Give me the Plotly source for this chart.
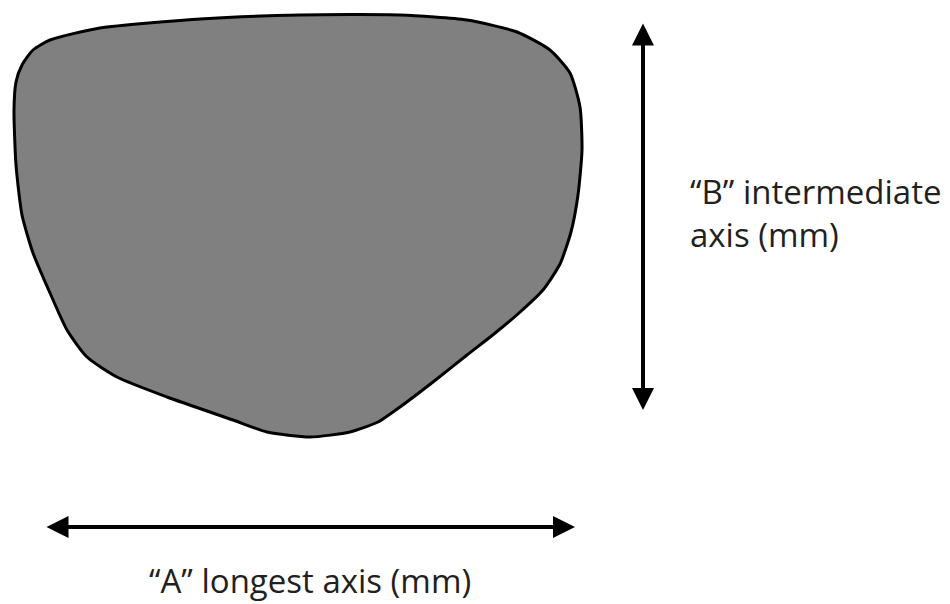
import plotly.graph_objects as go

# Outline of the particle (pixel-space coordinates)
outline_x = [14, 16, 22, 33, 50, 100, 200, 300, 400, 467, 517, 550, 570, 580, 582, 578,
             571, 560, 543, 519, 494, 467, 433, 400, 378, 350, 310, 267, 233, 167, 117, 87,
             67, 50, 33, 22, 16, 14]
outline_y = [110, 82, 65, 50, 40, 28, 19, 15, 15, 20, 32, 50, 73, 107, 150, 195,
             232, 264, 290, 313, 334, 355, 382, 407, 422, 432, 437, 432, 420, 397, 377, 357,
             330, 293, 253, 215, 165, 110]

# Axis arrows (start, end)
b_axis_x = [643, 643]
b_axis_y = [22, 410]
a_axis_x = [45, 575]
a_axis_y = [527, 527]

labels = ["“B” intermediate<br>axis (mm)", "“A” longest axis (mm)"]
label_x = [688, 310]
label_y = [213, 580]
label_anchor = ["left", "center"]

fig = go.Figure()
fig.add_trace(go.Scatter(
    x=outline_x, y=outline_y, mode="lines", fill="toself",
    fillcolor="#808080", line=dict(color="#000000", width=3, shape="spline", smoothing=0.6),
    hoverinfo="skip", showlegend=False))

for xs, ys in [(b_axis_x, b_axis_y), (a_axis_x, a_axis_y)]:
    fig.add_annotation(x=xs[1], y=ys[1], ax=xs[0], ay=ys[0], xref="x", yref="y",
                       axref="x", ayref="y", showarrow=True, arrowhead=2, startarrowhead=2,
                       arrowside="end+start", arrowwidth=4, arrowsize=1.1, startarrowsize=1.1,
                       arrowcolor="#000000", text="")

for t, lx, ly, anc in zip(labels, label_x, label_y, label_anchor):
    fig.add_annotation(x=lx, y=ly, text=t, showarrow=False,
                       xanchor=anc, yanchor="middle", align="left",
                       font=dict(family="Open Sans", size=33, color="#231f20"))

fig.update_xaxes(range=[0, 950], visible=False, fixedrange=True)
fig.update_yaxes(range=[604, 0], visible=False, fixedrange=True)
fig.update_layout(width=950, height=604, margin=dict(l=0, r=0, t=0, b=0),
                  plot_bgcolor="white", paper_bgcolor="white", hovermode=False)
fig.write_html("out.html", config={"displayModeBar": False},
               post_script="document.body.style.margin='0';document.body.style.overflow='hidden';")
